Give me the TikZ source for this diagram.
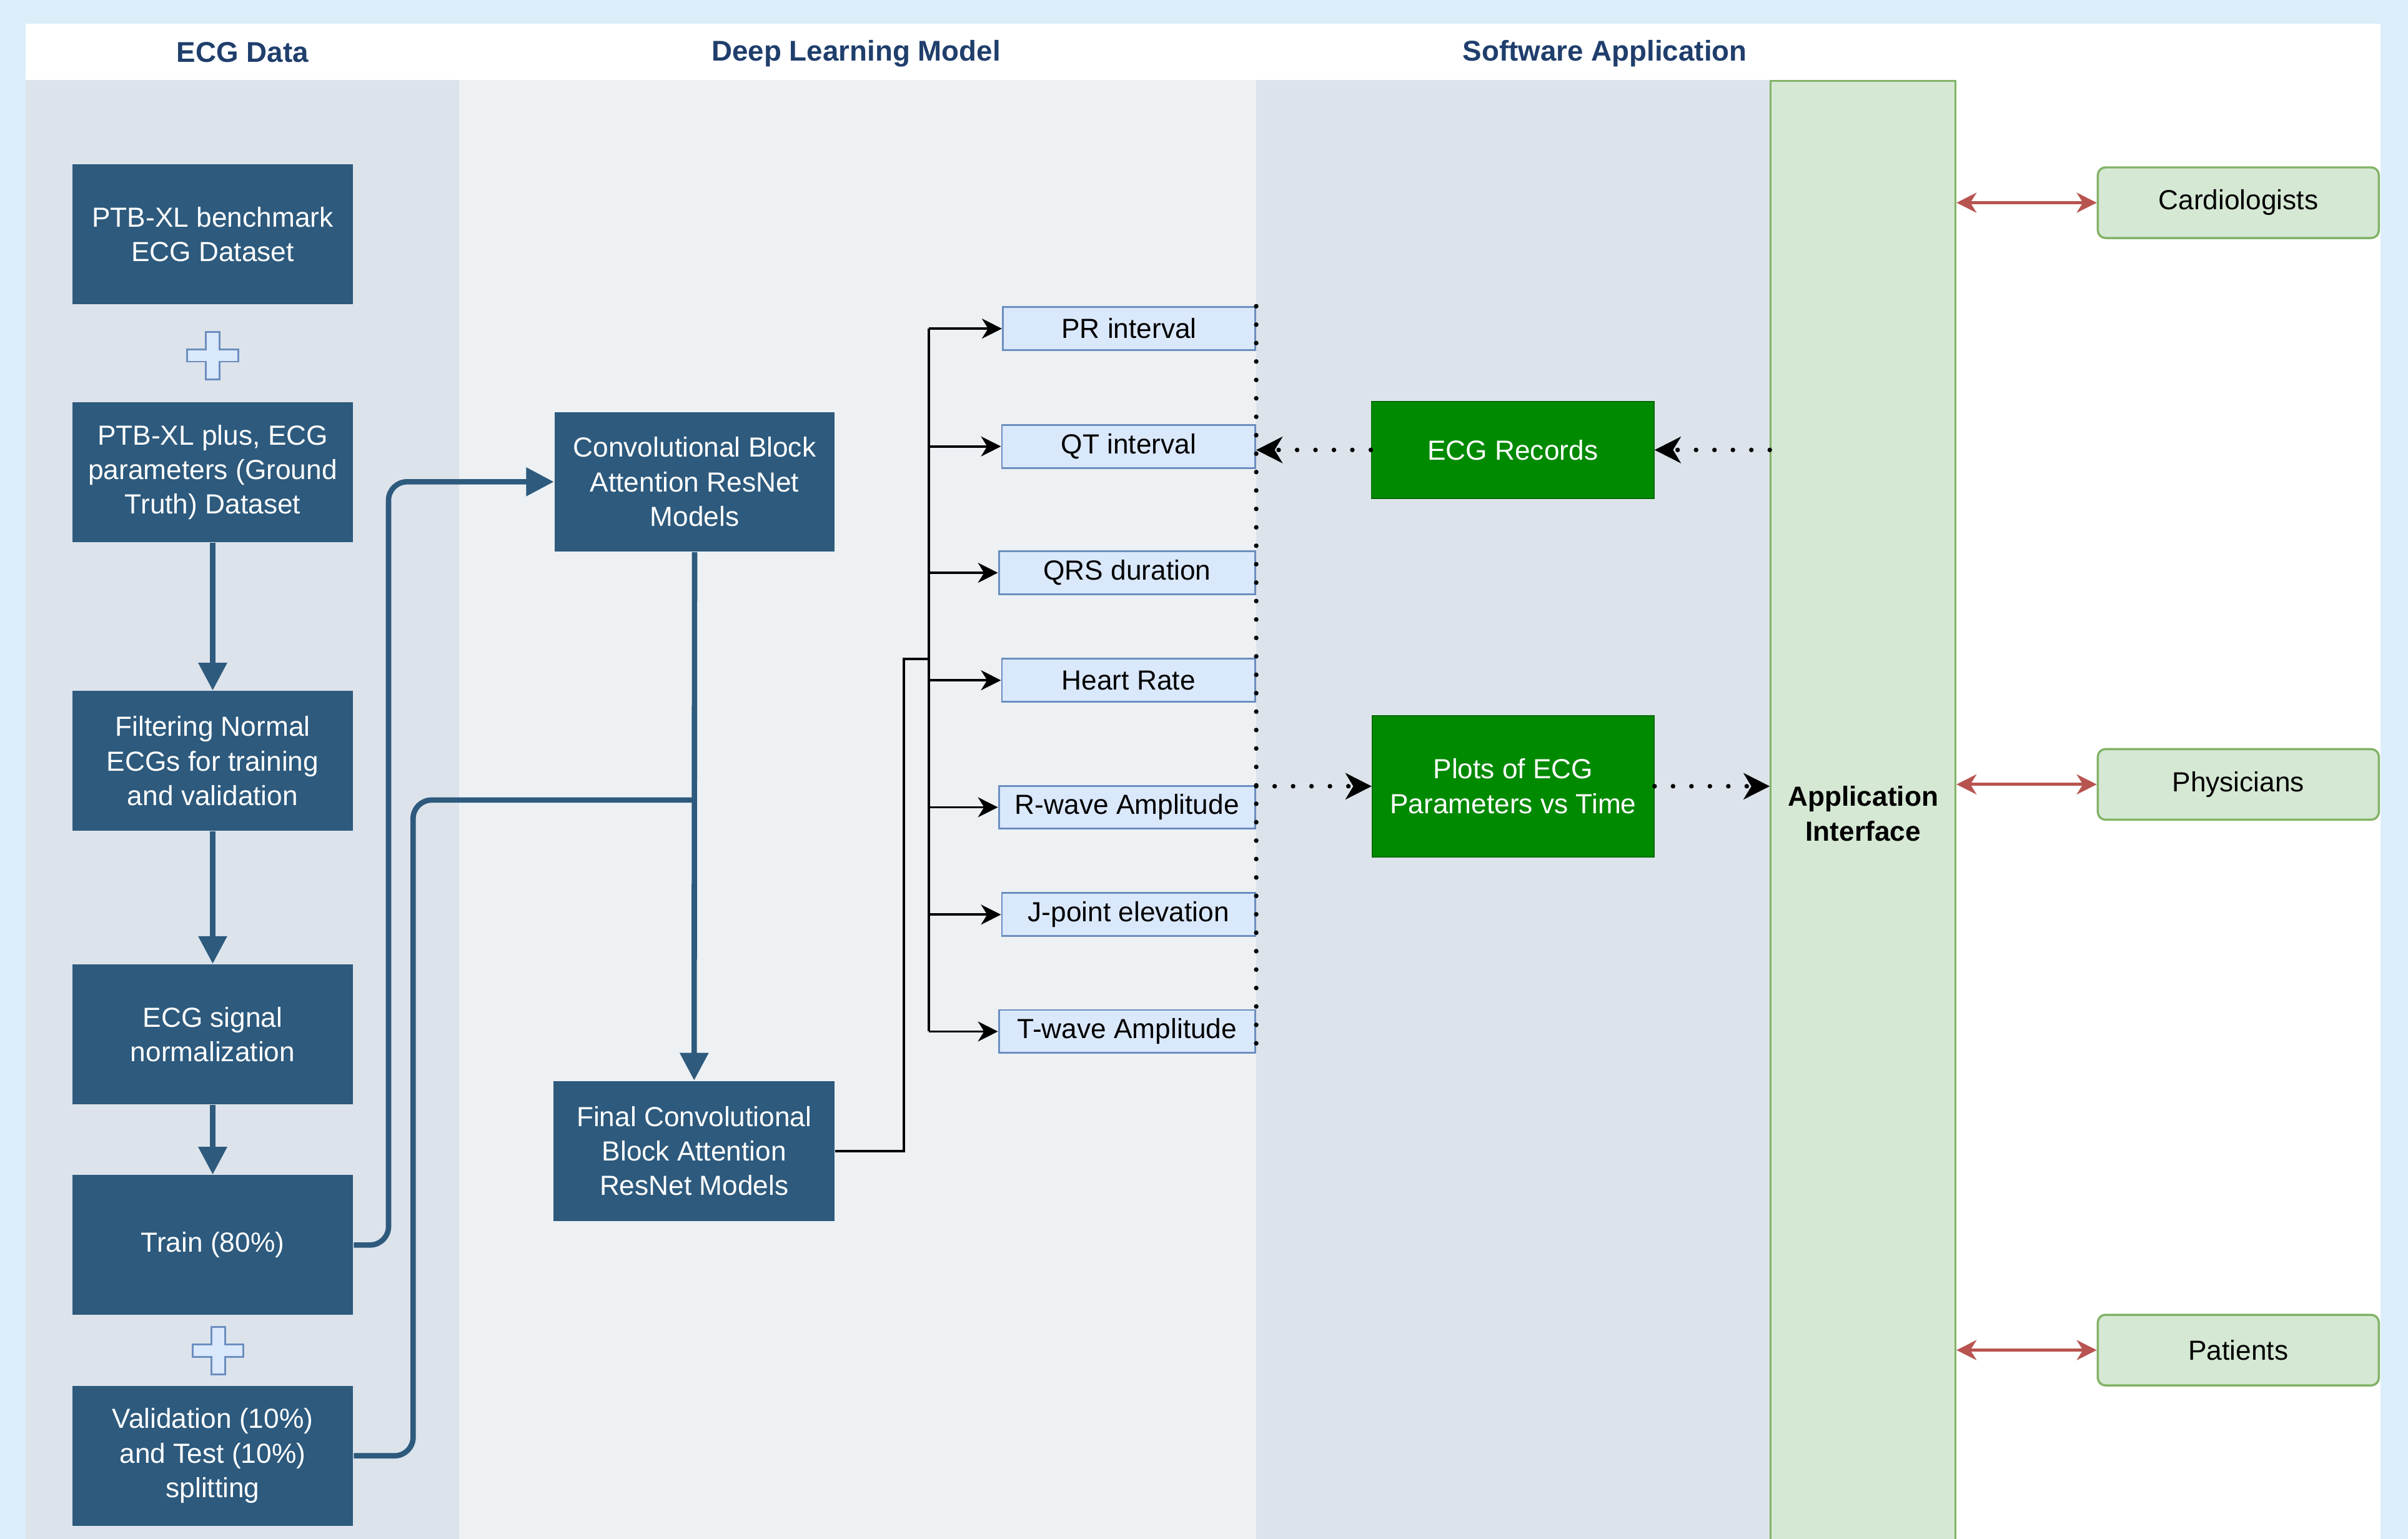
\documentclass[tikz,border=0pt]{standalone}
\usepackage{fontspec}
\setmainfont{Liberation Sans}
\usetikzlibrary{arrows.meta}
\definecolor{outerbg}{HTML}{DCEEFA}
\definecolor{laneA}{HTML}{DCE3EA}
\definecolor{laneB}{HTML}{EDF1F4}
\definecolor{navy}{HTML}{2D5A7D}
\definecolor{hdr}{HTML}{1F3E6C}
\definecolor{pfill}{HTML}{DAE8FC}
\definecolor{pdraw}{HTML}{6C8EBF}
\definecolor{gfill}{HTML}{D5E8D4}
\definecolor{gdraw}{HTML}{82B366}
\definecolor{dgreen}{HTML}{008A00}
\definecolor{dgreenb}{HTML}{006B00}
\definecolor{redarr}{HTML}{B85450}
\newcommand{\myfs}{\fontsize{9pt}{11.25pt}\selectfont}
\begin{document}
\begin{tikzpicture}[x=0.5pt,y=-0.5pt,
  font=\myfs,
  navybox/.style={fill=navy, text=white, minimum width=91.5pt, minimum height=45.5pt, align=center, inner sep=0pt},
  parbox/.style={fill=pfill, draw=pdraw, line width=0.6pt, minimum height=14pt, anchor=east, inner sep=0pt},
  grnbox/.style={fill=dgreen, draw=dgreenb, line width=0.4pt, text=white, align=center, inner sep=0pt},
  userbox/.style={fill=gfill, draw=gdraw, line width=0.7pt, rounded corners=2.5pt, minimum width=91.5pt, minimum height=23pt, inner sep=0pt},
  hdrtext/.style={font=\fontsize{9.3pt}{11pt}\selectfont\bfseries, text=hdr},
  bluearrow/.style={draw=navy, line width=1.75pt, -{Triangle[length=9pt,width=9pt]}},
  blueline/.style={draw=navy, line width=1.75pt, rounded corners=6pt},
  blkline/.style={draw=black, line width=0.75pt},
  blkarrow/.style={draw=black, line width=0.75pt, -{Stealth[length=6.5pt,width=6.5pt,inset=2pt]}},
  dotline/.style={draw=black, line width=1.5pt, line cap=round, dash pattern=on 0pt off 6pt},
  dotarrow/.style={dotline, -{Stealth[length=8.5pt,width=8.5pt,inset=2.5pt]}},
  redarrow/.style={draw=redarr, line width=1pt, {Stealth[length=6.5pt,width=6.5pt,inset=2pt]}-{Stealth[length=6.5pt,width=6.5pt,inset=2pt]}},
  plussign/.style={fill=pfill, draw=pdraw, line width=0.6pt},
  pluspic/.pic={\path[plussign] (-4.5,-15.5)--(4.5,-15.5)--(4.5,-4)--(16.5,-4)--(16.5,4)--(4.5,4)--(4.5,15.5)--(-4.5,15.5)--(-4.5,4)--(-16.5,4)--(-16.5,-4)--(-4.5,-4)--cycle;}
]
\useasboundingbox (0,0) rectangle (1568,1002);
\clip (0,0) rectangle (1568,1002);

% backgrounds
\fill[outerbg] (0,0) rectangle (1568,1002);
\fill[white] (16.5,15.5) rectangle (1550,1010);
\fill[laneA] (16.5,52) rectangle (299,1010);
\fill[laneB] (299,52) rectangle (818,1010);
\fill[laneA] (818,52) rectangle (1153,1010);

% headers
\node[hdrtext] (h1) at (158,34) {ECG Data};
\node[hdrtext] (h2) at (557.5,35) {Deep Learning Model};
\node[hdrtext] (h3) at (1045,35) {Software Application};

% application interface column
\node[fill=gfill, draw=gdraw, line width=0.6pt, minimum width=60.2pt, minimum height=477.2pt,
      inner sep=0pt, align=center, font=\myfs\bfseries] (ai) at (1213.2,529.8) {Application\\Interface};

% ECG data boxes
\node[navybox] (b1) at (138.5,152.5) {PTB-XL benchmark\\ECG Dataset};
\node[navybox] (b2) at (138.5,307.5) {PTB-XL plus, ECG\\parameters (Ground\\Truth) Dataset};
\node[navybox] (b3) at (138.5,495.5) {Filtering Normal\\ECGs for training\\and validation};
\node[navybox] (b4) at (138.5,673.5) {ECG signal\\normalization};
\node[navybox] (b5) at (138.5,810.75) {Train (80\%)};
\node[navybox] (b6) at (138.5,948) {Validation (10\%)\\and Test (10\%)\\splitting};
\pic at (138.5,231.5) {pluspic};
\pic at (142,879.5) {pluspic};

% model boxes
\node[navybox, minimum width=91.3pt] (cbar) at (452.3,313.75) {Convolutional Block\\Attention ResNet\\Models};
\node[navybox] (final) at (452,749.5) {Final Convolutional\\Block Attention\\ResNet Models};

% parameter boxes
\node[parbox, minimum width=82.2pt] (pr) at (818,214) {PR interval};
\node[parbox, minimum width=82.5pt] (qt) at (818,290.7) {QT interval};
\node[parbox, minimum width=83.5pt] (qrs) at (818,373) {QRS duration};
\node[parbox, minimum width=82.5pt] (hr) at (818,443) {Heart Rate};
\node[parbox, minimum width=83.5pt] (rw) at (818,525.7) {R-wave Amplitude};
\node[parbox, minimum width=82.5pt] (jp) at (818,595.6) {J-point elevation};
\node[parbox, minimum width=83.5pt] (tw) at (818,671.7) {T-wave Amplitude};

% software boxes
\node[grnbox, minimum width=92pt, minimum height=31.5pt] (er) at (985,293) {ECG Records};
\node[grnbox, minimum width=91.7pt, minimum height=46pt] (pl) at (985.3,512) {Plots of ECG\\Parameters vs Time};

% users
\node[userbox] (card) at (1457.5,132) {Cardiologists};
\node[userbox] (phys) at (1457.5,510.8) {Physicians};
\node[userbox] (pat) at (1457.5,879.2) {Patients};

% blue connectors
\draw[bluearrow] (b2.south) -- (b3.north);
\draw[bluearrow] (b3.south) -- (b4.north);
\draw[bluearrow] (b4.south) -- (b5.north);
\coordinate (tx) at (253,0);
\coordinate (vx) at (269,521);
\draw[blueline, -{Triangle[length=9pt,width=9pt]}] (b5.east) -| (tx |- cbar.west) -- (cbar.west);
\draw[blueline] (b6.east) -| (vx) -- (cbar.south |- vx);
\draw[bluearrow] (cbar.south) -- (final.north);

% black branch connectors
\coordinate (k1) at (588.6,429);
\coordinate (k2) at (604.7,429);
\draw[blkline] (final.east) -| (k1) -- (k2);
\draw[blkline] (pr.west -| k2) -- (tw.west -| k2);
\foreach \n in {pr,qt,qrs,hr,rw,jp,tw} {\draw[blkarrow] (\n.west -| k2) -- (\n.west);}

% dotted connectors
\draw[dotline] (pr.north east) -- (tw.south east);
\draw[dotarrow] (er.west) -- (er.west -| qt.east);
\draw[dotarrow] (er.east -| ai.west) -- (er.east);
\draw[dotarrow] (pl.west -| qt.east) -- (pl.west);
\draw[dotarrow] (pl.east) -- (pl.east -| ai.west);

% red user connectors
\draw[redarrow] (card.west -| ai.east) -- (card.west);
\draw[redarrow] (phys.west -| ai.east) -- (phys.west);
\draw[redarrow] (pat.west -| ai.east) -- (pat.west);
\end{tikzpicture}
\end{document}
